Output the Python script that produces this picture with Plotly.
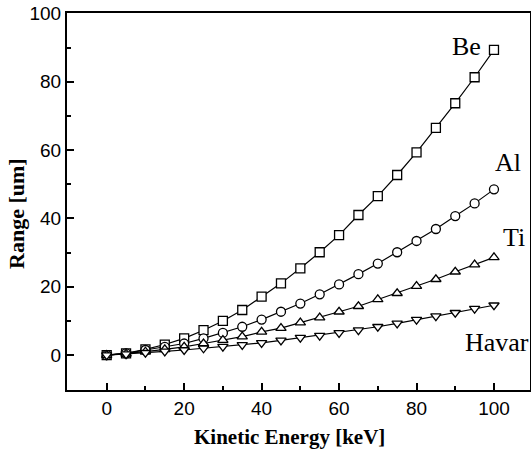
import plotly.graph_objects as go

energy = [0, 5, 10, 15, 20, 25, 30, 35, 40, 45, 50, 55, 60, 65, 70, 75, 80, 85, 90, 95, 100]
be = [0, 0.5, 1.7, 3.1, 4.9, 7.3, 10.0, 13.2, 17.1, 21.0, 25.4, 30.1, 35.1, 41.0, 46.5, 52.7, 59.3, 66.5, 73.7, 81.3, 89.3]
al = [0, 0.5, 1.5, 2.4, 3.4, 4.9, 6.5, 8.3, 10.4, 12.7, 15.1, 17.8, 20.7, 23.7, 26.8, 30.1, 33.4, 36.9, 40.7, 44.4, 48.5]
ti = [0, 0.4, 1.0, 1.7, 2.4, 3.4, 4.4, 5.4, 6.8, 7.9, 9.5, 11.0, 12.7, 14.3, 16.3, 18.1, 20.2, 22.2, 24.4, 26.5, 28.6]
havar = [0, 0.3, 0.7, 1.1, 1.5, 2.0, 2.5, 3.0, 3.6, 4.3, 5.1, 5.7, 6.5, 7.3, 8.3, 9.3, 10.4, 11.4, 12.4, 13.6, 14.6]

series = [
    ("Be", be, "square"),
    ("Al", al, "circle"),
    ("Ti", ti, "triangle-up"),
    ("Havar", havar, "triangle-down"),
]
# (text, x, y, xshift px, yshift px)
labels = [("Be", 100, 89.3, -27, 3), ("Al", 100, 48.5, 14, 27), ("Ti", 100, 28.6, 20, 20), ("Havar", 100, 14.6, 3, -37)]

fig = go.Figure()
for name, vals, sym in series:
    fig.add_trace(go.Scatter(
        x=energy, y=vals, mode="lines+markers", name=name,
        line=dict(color="black", width=1.2),
        marker=dict(symbol=sym, size=9, color="white", line=dict(width=1.3, color="black")),
        showlegend=False,
    ))

for text, xv, yv, xs, ys in labels:
    fig.add_annotation(x=xv, y=yv, text=text, showarrow=False, xshift=xs, yshift=ys,
                       font=dict(family="Liberation Serif", size=26, color="black"))

fig.add_annotation(xref="paper", yref="paper", x=0.4816, y=-0.1247, text="<b>Kinetic Energy [keV]</b>",
                   showarrow=False, xanchor="center", yanchor="middle",
                   font=dict(family="Liberation Serif", size=21, color="black"))
fig.add_annotation(xref="paper", yref="paper", x=-0.108, y=0.4695, text="<b>Range [um]</b>",
                   showarrow=False, xanchor="center", yanchor="middle", textangle=-90,
                   font=dict(family="Liberation Serif", size=22, color="black"))

fig.update_layout(
    width=531, height=450,
    margin=dict(l=67, r=1, t=13, b=60),
    plot_bgcolor="white", paper_bgcolor="white",
    font=dict(family="Liberation Sans", size=19, color="black"),
)
fig.update_xaxes(
    range=[-10.25, 109.3], tickmode="array", tickvals=[0, 20, 40, 60, 80, 100],
    ticks="inside", ticklen=7, tickwidth=1.5, tickcolor="black", automargin=False,
    minor=dict(tickvals=[10, 30, 50, 70, 90], ticks="inside", ticklen=4, tickcolor="black"),
    showline=True, linecolor="black", linewidth=2, mirror=True, showgrid=False, zeroline=False,
)
fig.update_yaxes(
    range=[-10.2, 100.1], tickmode="array", tickvals=[0, 20, 40, 60, 80, 100],
    ticks="inside", ticklen=7, tickwidth=1.5, tickcolor="black", automargin=False,
    minor=dict(tickvals=[10, 30, 50, 70, 90], ticks="inside", ticklen=4, tickcolor="black"),
    showline=True, linecolor="black", linewidth=2, mirror=True, showgrid=False, zeroline=False,
)
fig.write_html("out.html", config={"displayModeBar": False},
               post_script="document.body.style.margin='0';document.body.style.overflow='hidden';")
